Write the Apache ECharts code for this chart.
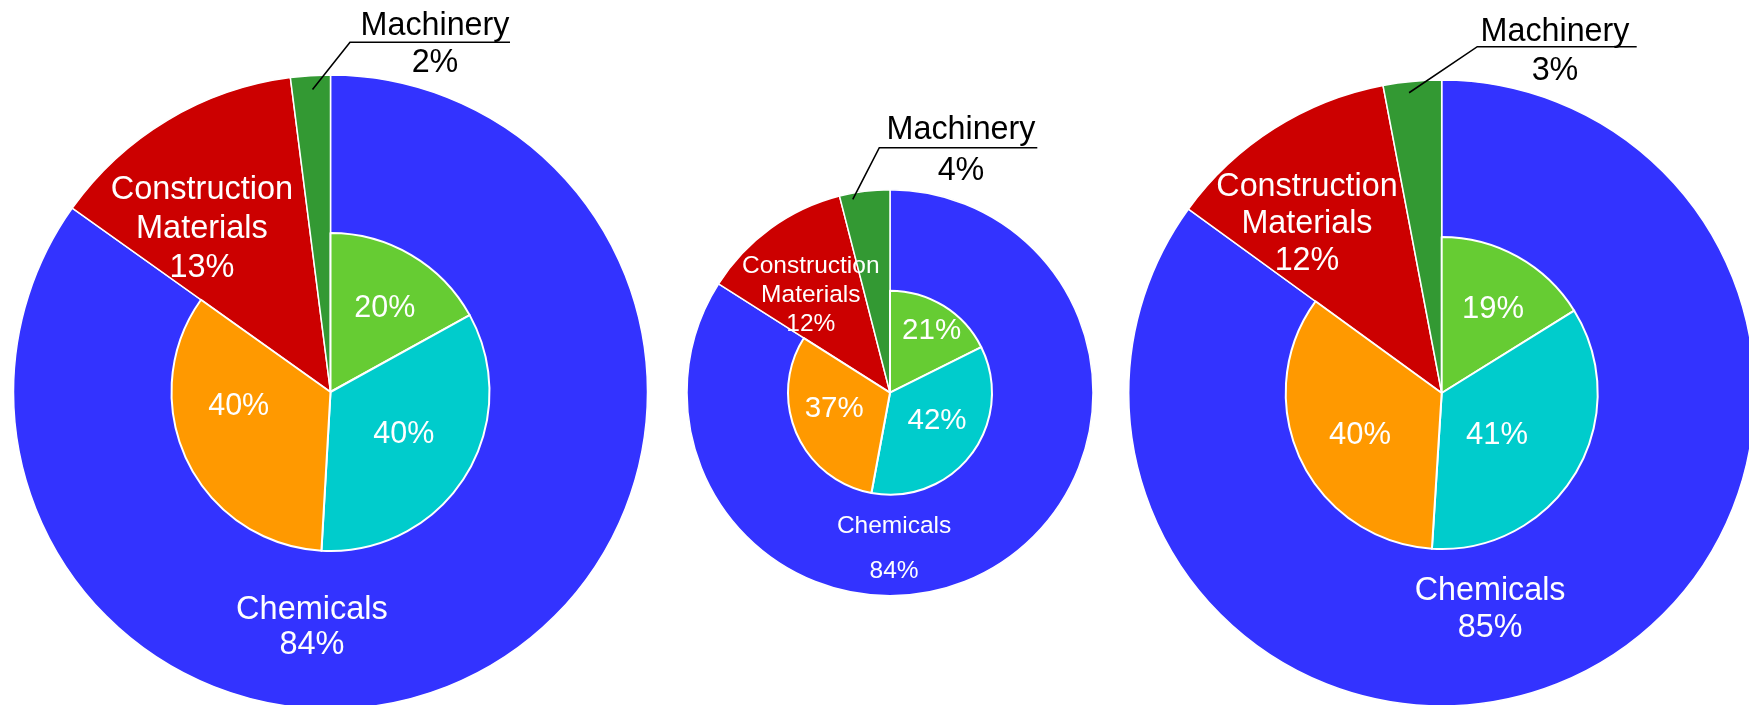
<!DOCTYPE html>
<html>
<head>
<meta charset="utf-8">
<script src="https://cdn.jsdelivr.net/npm/echarts@6/dist/echarts.min.js"></script>
<style>
html,body{margin:0;padding:0;background:#ffffff;}
#chart{width:1749px;height:705px;}
</style>
</head>
<body>
<div id="chart"></div>
<script>
// ---------------- data ----------------
const outerCategories = ['Chemicals', 'Construction Materials', 'Machinery'];
const outerLabelNames = ['Chemicals', 'Construction\nMaterials', 'Machinery'];
const outerValues1 = [84, 13, 2];
const outerValues2 = [84, 12, 4];
const outerValues3 = [85, 12, 3];

const innerCategories = ['Part 1', 'Part 2', 'Part 3'];
const innerValues1 = [20, 40, 40];
const innerValues2 = [21, 42, 37];
const innerValues3 = [19, 41, 40];

// ---------------- styles / layout ----------------
const outerColors = ['#3333FF', '#CC0000', '#339933'];
const innerColors = ['#66CC33', '#00CCCC', '#FF9900'];
const FONT = '"Liberation Sans", Arial, Helvetica, sans-serif';

// label spots: [angle clockwise from 12 o'clock (deg), fraction of radius]
const layouts = [
  { outer: outerValues1, inner: innerValues1, center: [330.5, 392], R: 317, r: 159,
    fOuter: 32.5, fInner: 30.5, fMach: 32.3, lhChem: 35, lhCons: 39, lhMach: 37,
    outerSpots: [[184.5, 0.745], [321.8, 0.656]],
    innerSpots: [[33.2, 0.624], [120.4, 0.535], [260.7, 0.585]],
    mach: { text: [104.5, -347.2], line: [19.5, 179.5, -349.7], tip: [356.6, 0.956] } },
  { outer: outerValues2, inner: innerValues2, center: [890, 392.7], R: 203, r: 102,
    fOuter: 24.5, fInner: 29.5, fMach: 32.3, lhChem: 45, lhCons: 29, lhMach: 41,
    outerSpots: [[178.5, 0.77], [321, 0.62]],
    innerSpots: [[34, 0.73], [120.9, 0.537], [253.8, 0.57]],
    mach: { text: [71, -241.7], line: [-10.7, 147.3, -245], tip: [349.1, 0.97] } },
  { outer: outerValues3, inner: innerValues3, center: [1441.7, 393], R: 313, r: 156,
    fOuter: 32.3, fInner: 31, fMach: 32.3, lhChem: 37, lhCons: 37, lhMach: 39,
    outerSpots: [[167.4, 0.709], [321.4, 0.69]],
    innerSpots: [[31.7, 0.626], [127.2, 0.445], [242.8, 0.589]],
    mach: { text: [113.3, -341.5], line: [35.6, 195, -346.3], tip: [353.8, 0.965] } }
];

function polar(c, rad, spot) {
  const a = spot[0] * Math.PI / 180;
  return [c[0] + spot[1] * rad * Math.sin(a), c[1] - spot[1] * rad * Math.cos(a)];
}
const sum = arr => arr.reduce((s, v) => s + v, 0);

const series = [];
layouts.forEach(cfg => {
  const c = cfg.center;
  // outer full pie (slices + inside labels)
  series.push({
    type: 'pie', center: c, radius: [0, cfg.R], startAngle: 90, clockwise: true,
    z: 1, silent: true, animation: false, avoidLabelOverlap: false,
    itemStyle: { borderColor: '#ffffff', borderWidth: 1.5 },
    emphasis: { disabled: true },
    labelLine: { show: false },
    data: outerCategories.map((name, i) => ({
      name: name, value: cfg.outer[i],
      itemStyle: { color: outerColors[i] },
      label: {
        show: i < 2, position: 'inside',
        formatter: outerLabelNames[i] + '\n' + cfg.outer[i] + '%',
        color: '#ffffff', fontSize: cfg.fOuter,
        lineHeight: i === 0 ? cfg.lhChem : cfg.lhCons,
        fontFamily: FONT, align: 'center', textBorderWidth: 0
      }
    })),
    labelLayout: function (p) {
      if (p.dataIndex > 1) return {};
      const pt = polar(c, cfg.R, cfg.outerSpots[p.dataIndex]);
      return { x: pt[0], y: pt[1], align: 'center', verticalAlign: 'middle' };
    }
  });
  // transparent overlay of the same outer data, carrying the callout label (so its leader is on top)
  series.push({
    type: 'pie', center: c, radius: [0, cfg.R], startAngle: 90, clockwise: true,
    z: 3, silent: true, animation: false, avoidLabelOverlap: false,
    itemStyle: { color: 'rgba(0,0,0,0)', borderWidth: 0 },
    emphasis: { disabled: true },
    labelLine: { show: true, showAbove: true, length: 10, length2: 10, smooth: false,
      lineStyle: { color: '#000000', width: 1.6 } },
    data: outerCategories.map((name, i) => ({
      name: name, value: cfg.outer[i],
      label: {
        show: i === 2, position: 'outside',
        formatter: outerLabelNames[i] + '\n' + cfg.outer[i] + '%',
        color: '#000000', fontSize: cfg.fMach, lineHeight: cfg.lhMach,
        fontFamily: FONT, align: 'center', textBorderWidth: 0
      },
      labelLine: { show: i === 2 }
    })),
    labelLayout: function (p) {
      if (p.dataIndex !== 2) return {};
      const m = cfg.mach;
      const tip = polar(c, cfg.R, m.tip);
      return {
        x: c[0] + m.text[0], y: c[1] + m.text[1], align: 'center', verticalAlign: 'middle',
        labelLinePoints: [tip, [c[0] + m.line[0], c[1] + m.line[2]], [c[0] + m.line[1], c[1] + m.line[2]]]
      };
    }
  });
  // inner pie: breakdown of Chemicals, spanning the Chemicals angle
  const gap = sum(cfg.inner) * (sum(cfg.outer) - cfg.outer[0]) / cfg.outer[0];
  const innerData = innerCategories.map((name, i) => ({
    name: name, value: cfg.inner[i], itemStyle: { color: innerColors[i] }
  }));
  innerData.push({ name: 'rest', value: gap,
    itemStyle: { color: 'rgba(0,0,0,0)', borderWidth: 0 }, label: { show: false } });
  series.push({
    type: 'pie', center: c, radius: [0, cfg.r], startAngle: 90, clockwise: true,
    z: 2, silent: true, animation: false, avoidLabelOverlap: false,
    itemStyle: { borderColor: '#ffffff', borderWidth: 2 },
    emphasis: { disabled: true },
    label: { show: true, position: 'inside', formatter: '{c}%', color: '#ffffff',
      fontSize: cfg.fInner, fontFamily: FONT, textBorderWidth: 0 },
    labelLine: { show: false },
    data: innerData,
    labelLayout: function (p) {
      if (p.dataIndex > 2) return {};
      const pt = polar(c, cfg.r, cfg.innerSpots[p.dataIndex]);
      return { x: pt[0], y: pt[1], align: 'center', verticalAlign: 'middle' };
    }
  });
});

const chart = echarts.init(document.getElementById('chart'), null, { renderer: 'canvas' });
chart.setOption({
  backgroundColor: '#ffffff',
  animation: false,
  textStyle: { fontFamily: FONT },
  tooltip: { show: false },
  series: series
});
</script>
</body>
</html>
